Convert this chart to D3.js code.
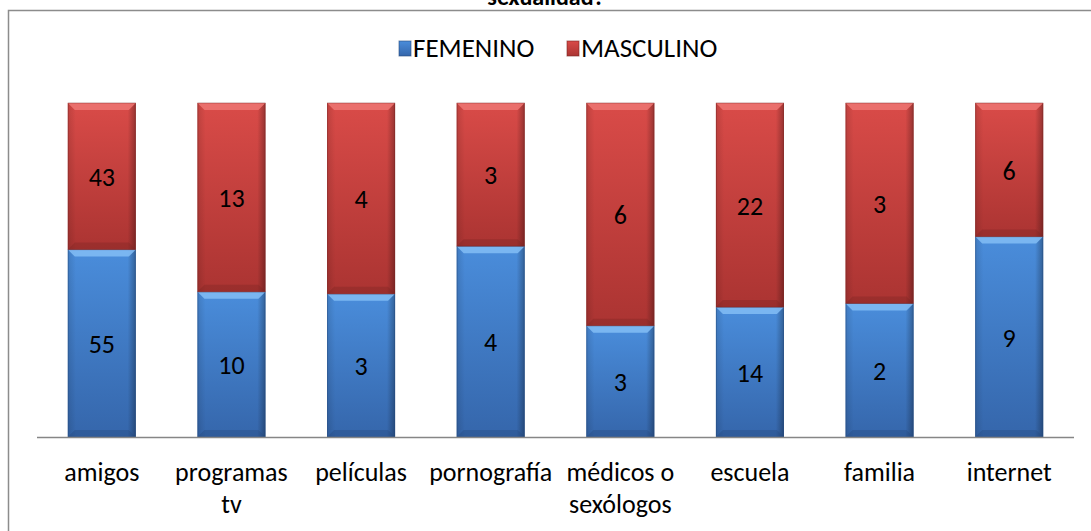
<!DOCTYPE html>
<html>
<head>
<meta charset="utf-8">
<script src="https://cdn.jsdelivr.net/npm/d3@7"></script>
<style>
  body { margin: 0; background: #fff; }
  svg { display: block; }
</style>
</head>
<body>
<div id="chart"></div>
<script>
// values
const categories = ['amigos', 'programas tv', 'películas', 'pornografía', 'médicos o sexólogos', 'escuela', 'familia', 'internet']
const catLines = [['amigos'], ['programas', 'tv'], ['películas'], ['pornografía'], ['médicos o', 'sexólogos'], ['escuela'], ['familia'], ['internet']]
const femenino = [55, 10, 3, 4, 3, 14, 2, 9]
const masculino = [43, 13, 4, 3, 6, 22, 3, 6]
const seriesNames = ['FEMENINO', 'MASCULINO']

const width = 1091, height = 531
const font = 'Carlito, Lato, "Open Sans", sans-serif'

const svg = d3.select('#chart').append('svg')
    .attr('width', width)
    .attr('height', height)

// frame (right and bottom edges fall outside the picture)
svg.append('rect')
    .attr('x', 8.5).attr('y', 10.5)
    .attr('width', 1200).attr('height', 600)
    .attr('fill', '#fff')
    .attr('stroke', '#8c8c8c')
    .attr('stroke-width', 1.5)

// title, mostly cut off at the top like in the original
svg.append('text')
    .attr('x', 546).attr('y', 5)
    .attr('text-anchor', 'middle')
    .attr('font-family', font)
    .attr('font-size', 24)
    .attr('font-weight', 'bold')
    .text('sexualidad?')

const defs = svg.append('defs')
const pal = {
    FEMENINO: {top: '#4a8ddb', bot: '#3566ab', hi: '#7fbaf3', edge: '#24497c'},
    MASCULINO: {top: '#d94b48', bot: '#ab3432', hi: '#ec7370', edge: '#7a2523'}
}
seriesNames.forEach((s, i) => {
    const g = defs.append('linearGradient').attr('id', 'g' + i)
        .attr('x1', 0).attr('y1', 0).attr('x2', 0).attr('y2', 1)
    g.append('stop').attr('offset', '0%').attr('stop-color', pal[s].top)
    g.append('stop').attr('offset', '100%').attr('stop-color', pal[s].bot)
    const h = defs.append('linearGradient').attr('id', 'h' + i)
        .attr('x1', 0).attr('y1', 0).attr('x2', 1).attr('y2', 0)
    h.append('stop').attr('offset', '0%').attr('stop-color', '#000').attr('stop-opacity', 0.12)
    h.append('stop').attr('offset', '12%').attr('stop-color', '#000').attr('stop-opacity', 0)
    h.append('stop').attr('offset', '88%').attr('stop-color', '#000').attr('stop-opacity', 0)
    h.append('stop').attr('offset', '100%').attr('stop-color', '#000').attr('stop-opacity', 0.3)
})

const x = d3.scaleBand()
    .domain(categories)
    .range([37, 1074])
    .paddingInner(0.475)
    .paddingOuter(0.2375)

const y = d3.scaleLinear()
    .domain([0, 1])
    .range([437, 103])

const table = categories.map((c, i) => ({cat: c, FEMENINO: femenino[i], MASCULINO: masculino[i]}))
const stacked = d3.stack().keys(seriesNames).offset(d3.stackOffsetExpand)(table)

const bw = x.bandwidth()
const bev = 7

stacked.forEach((layer, si) => {
    const s = layer.key
    const g = svg.append('g')
    const segs = g.selectAll('g').data(layer).enter().append('g')
    segs.append('rect')
        .attr('x', d => x(d.data.cat))
        .attr('y', d => y(d[1]))
        .attr('width', bw)
        .attr('height', d => y(d[0]) - y(d[1]))
        .attr('fill', 'url(#g' + si + ')')
    segs.append('rect')
        .attr('x', d => x(d.data.cat))
        .attr('y', d => y(d[1]))
        .attr('width', bw)
        .attr('height', d => y(d[0]) - y(d[1]))
        .attr('fill', 'url(#h' + si + ')')
    // top bevel
    segs.append('path')
        .attr('d', d => {
            const x0 = x(d.data.cat), y0 = y(d[1])
            return `M${x0},${y0}H${x0 + bw}L${x0 + bw - bev},${y0 + bev}H${x0 + bev}Z`
        })
        .attr('fill', pal[s].hi)
        .attr('opacity', 0.9)
    // bottom shade
    segs.append('path')
        .attr('d', d => {
            const x0 = x(d.data.cat), y1 = y(d[0])
            return `M${x0},${y1}H${x0 + bw}L${x0 + bw - bev},${y1 - bev}H${x0 + bev}Z`
        })
        .attr('fill', pal[s].edge)
        .attr('opacity', 0.35)
    segs.append('rect')
        .attr('x', d => x(d.data.cat) + 0.5)
        .attr('y', d => y(d[1]))
        .attr('width', bw - 1)
        .attr('height', d => y(d[0]) - y(d[1]))
        .attr('fill', 'none')
        .attr('stroke', pal[s].edge)
        .attr('stroke-opacity', 0.45)
        .attr('stroke-width', 1)
    segs.append('text')
        .attr('x', d => x(d.data.cat) + bw / 2)
        .attr('y', d => (y(d[0]) + y(d[1])) / 2)
        .attr('dy', '0.38em')
        .attr('text-anchor', 'middle')
        .attr('font-family', font)
        .attr('font-size', 26)
        .attr('fill', '#000')
        .text(d => d.data[s])
})

// category axis
svg.append('line')
    .attr('x1', 37).attr('x2', 1074)
    .attr('y1', 437.5).attr('y2', 437.5)
    .attr('stroke', '#868686')
    .attr('stroke-width', 1.5)

const labels = svg.append('g')
    .selectAll('text')
    .data(categories)
    .enter().append('text')
        .attr('x', d => x(d) + bw / 2)
        .attr('y', 481)
        .attr('text-anchor', 'middle')
        .attr('font-family', font)
        .attr('font-size', 26)
        .attr('fill', '#000')
labels.each(function(d, i) {
    const t = d3.select(this)
    catLines[i].forEach((ln, j) => {
        t.append('tspan')
            .attr('x', x(d) + bw / 2)
            .attr('dy', j === 0 ? 0 : 32)
            .text(ln)
    })
})

// legend
const legend = svg.append('g')
const legX = [399, 567]
seriesNames.forEach((s, i) => {
    legend.append('rect')
        .attr('x', legX[i]).attr('y', 41)
        .attr('width', 12).attr('height', 15)
        .attr('fill', 'url(#g' + i + ')')
        .attr('stroke', pal[s].edge)
        .attr('stroke-opacity', 0.6)
    legend.append('text')
        .attr('x', legX[i] + 14).attr('y', 48)
        .attr('dy', '0.35em')
        .attr('font-family', font)
        .attr('font-size', 27)
        .attr('fill', '#000')
        .text(s)
})
</script>
</body>
</html>
